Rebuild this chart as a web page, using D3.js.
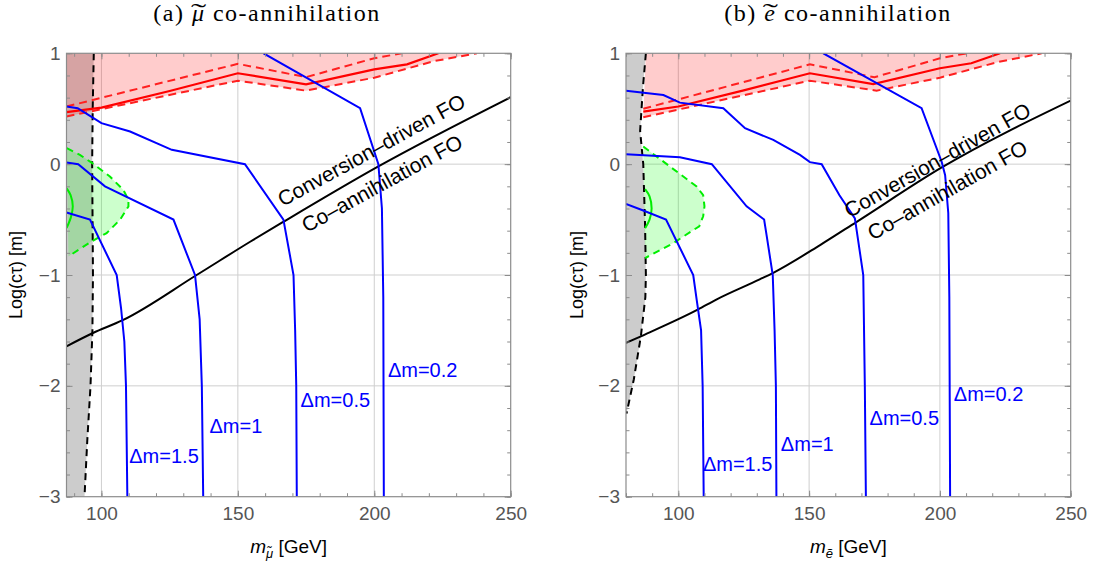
<!DOCTYPE html>
<html>
<head>
<meta charset="utf-8">
<script src="https://cdn.jsdelivr.net/npm/d3@7"></script>
<style>
  body { margin: 0; background: #fff; }
  svg text { font-family: "Liberation Sans", Arial, sans-serif; }
</style>
</head>
<body>
<div id="chart"></div>
<script>
const W = 1096;
const H = 569;

// shared axes
const yTicks = [-3, -2, -1, 0, 1];
const yGrid = [-2, -1, 0];
const xTicks = [100, 150, 200, 250];
const xGrid = [100, 150, 200];
const dmLabels = ["Δm=0.2", "Δm=0.5", "Δm=1", "Δm=1.5"];

// (a) smuon co-annihilation
const muDomain = [87.2, 250];
const muBound = [[97.2, 1], [96.8, 0.5], [96.6, 0], [96.9, -1], [96.7, -1.5], [96.0, -2], [94.8, -2.5], [93.8, -3]];
const muRed = [[87.2, 0.47], [100, 0.51], [125, 0.66], [150, 0.82], [175, 0.72], [200, 0.855], [212, 0.9], [223.5, 1.0]];
const muRedUp = [[87.2, 0.52], [150, 0.905], [175, 0.785], [200, 0.955], [210, 1.0]];
const muRedLow = [[87.2, 0.43], [150, 0.753], [175, 0.663], [200, 0.78], [222, 0.93], [237.6, 1.0]];
const muGreen = [[87.3, 0.144], [92.1, 0.084], [96.4, 0.014], [103.1, -0.111], [108.0, -0.232], [109.9, -0.322],
  [109.9, -0.382], [106.8, -0.502], [101.9, -0.622], [96.4, -0.697], [87.9, -0.832]];
const muGreenCore = [[87.2, -0.216], [88.7, -0.28], [89.5, -0.38], [88.8, -0.48], [87.2, -0.577]];
const muFO = [[87.2, -1.643], [96.9, -1.523], [107.6, -1.41], [134.9, -1.0], [154.5, -0.70],
  [166.7, -0.52], [201.5, -0.02], [250, 0.604]];
const muDm02 = [[159.4, 1], [194.8, 0.505], [201.5, 0.0], [202.8, -0.4], [203.3, -1.2], [203.5, -3]];
const muDm05 = [[87.2, 0.52], [91.3, 0.505], [95.8, 0.435], [100, 0.37], [110.5, 0.294], [125.8, 0.129],
  [152.6, 0.0], [166.7, -0.5], [170.4, -1.0], [171, -1.5], [171.4, -2], [171.6, -3]];
const muDm1 = [[87.2, 0.014], [91.5, 0.0], [101.3, -0.2], [126.4, -0.5], [134.3, -1.0], [136, -1.4], [136.8, -2], [137.3, -3]];
const muDm15 = [[87.2, -0.436], [95.8, -0.50], [105.6, -1.0], [107.2, -1.3], [108.4, -1.6], [109, -2], [109.5, -3]];
const muDmAt = [[205.0, -1.853], [173.0, -2.123], [139.6, -2.364], [110.2, -2.628]];
const muFOAt = [[198.9, 0.129], [202.8, -0.171]];

// (b) selectron co-annihilation
const eDomain = [80, 250];
const eBound = [[87.6, 1.0], [86.5, 0.7], [85.4, 0.3], [86.6, 0.0], [87.3, -0.56], [87.6, -1.0], [87.4, -1.2],
  [85.7, -1.55], [83, -1.94], [80.2, -2.25]];
const eRed = [[86.6, 0.474], [100, 0.52], [125, 0.665], [150.3, 0.82], [174.5, 0.723], [200, 0.865], [212, 0.91], [223, 1.0]];
const eRedUp = [[86.6, 0.50], [150.3, 0.90], [175, 0.784], [200, 0.955], [210.2, 1.0]];
const eRedLow = [[86.6, 0.423], [150.3, 0.753], [175.8, 0.663], [200, 0.78], [222, 0.92], [238.9, 1.0]];
const eGreen = [[86.6, 0.159], [107, -0.202], [109.5, -0.28], [110, -0.38], [109.5, -0.47], [108, -0.56],
  [98.1, -0.712], [87.3, -0.847]];
const eGreenCore = [[87.3, -0.225], [89, -0.29], [89.8, -0.4], [89, -0.5], [87.3, -0.577]];
const eFO = [[80, -1.613], [85.7, -1.553], [107.4, -1.313], [114.7, -1.22], [131.1, -1.04], [136.3, -0.98],
  [154.2, -0.73], [168.2, -0.52], [200.7, -0.03], [250, 0.573]];
const eDm02 = [[155.4, 1], [193, 0.505], [200.7, 0.02], [202, -0.1], [203.2, -0.44], [203.6, -1.2], [203.9, -3]];
const eDm05 = [[80, 0.663], [94.3, 0.624], [100.6, 0.555], [117.2, 0.505], [125.5, 0.324], [136.3, 0.219],
  [146.5, 0.084], [150.3, 0.018], [154.8, 0.0], [161.6, -0.28], [167.5, -0.49], [170.7, -1.0], [171.3, -2], [171.7, -3]];
const eDm1 = [[80, 0.09], [100.6, 0.063], [112.8, 0.0], [126.1, -0.38], [132.8, -0.50], [133.8, -0.65],
  [136.1, -1.0], [136.8, -1.5], [137.3, -2], [137.5, -3]];
const eDm15 = [[80, -0.36], [86.6, -0.418], [95.3, -0.50], [105.7, -1.0], [107, -1.22], [108.7, -1.5], [109.3, -2], [109.7, -3]];
const eDmAt = [[205.3, -2.07], [173.1, -2.29], [139.2, -2.52], [109.4, -2.70]];
const eFOAt = [[199.0, 0.039], [202.8, -0.232]];

const panels = [
  {
    id: "a", left: 66.5, right: 510.7, domain: muDomain, tag: "(a) ", sym: "μ", subSym: "μ̃", titleX: 267, ylabX: 22,
    bound: muBound, grayBottom: -3, redLeft: 87.2, red: muRed, redUp: muRedUp, redLow: muRedLow,
    green: muGreen, greenCore: muGreenCore, fo: muFO, dm: [muDm02, muDm05, muDm1, muDm15],
    dmAt: muDmAt, foAt: muFOAt
  },
  {
    id: "b", left: 626, right: 1070.7, domain: eDomain, tag: "(b) ", sym: "e", subSym: "ẽ", titleX: 838, ylabX: 582.5,
    bound: eBound, grayBottom: null, redLeft: 87.6, red: eRed, redUp: eRedUp, redLow: eRedLow,
    green: eGreen, greenCore: eGreenCore, fo: eFO, dm: [eDm02, eDm05, eDm1, eDm15],
    dmAt: eDmAt, foAt: eFOAt
  }
];

const plotTop = 53.3;
const plotBottom = 496.7;
const frameColor = "#8c8c8c";
const labelColor = "#555";

const svg = d3.select("#chart").append("svg")
  .attr("width", W)
  .attr("height", H)
  .attr("viewBox", `0 0 ${W} ${H}`);

const drawPanel = (p) => {
  const x = d3.scaleLinear().domain(p.domain).range([p.left, p.right]);
  const y = d3.scaleLinear().domain([-3, 1]).range([plotBottom, plotTop]);
  const line = d3.line().x((d) => x(d[0])).y((d) => y(d[1]));
  const smooth = d3.line().x((d) => x(d[0])).y((d) => y(d[1])).curve(d3.curveCatmullRom);
  const mono = d3.line().x((d) => x(d[0])).y((d) => y(d[1])).curve(d3.curveMonotoneX);
  const xMin = p.domain[0];
  const xMax = p.domain[1];

  const g = svg.append("g");

  g.append("clipPath").attr("id", "clip" + p.id)
    .append("rect")
    .attr("x", p.left).attr("y", plotTop)
    .attr("width", p.right - p.left).attr("height", plotBottom - plotTop);

  const plot = g.append("g").attr("clip-path", `url(#clip${p.id})`);

  // grid
  plot.selectAll(".gx").data(xGrid).enter().append("line")
    .attr("x1", (d) => x(d)).attr("x2", (d) => x(d))
    .attr("y1", plotTop).attr("y2", plotBottom)
    .attr("stroke", "#cfcfcf").attr("stroke-width", 1);
  plot.selectAll(".gy").data(yGrid).enter().append("line")
    .attr("x1", p.left).attr("x2", p.right)
    .attr("y1", (d) => y(d)).attr("y2", (d) => y(d))
    .attr("stroke", "#cfcfcf").attr("stroke-width", 1);

  // excluded (grey) region left of the dashed boundary
  const lastB = p.bound[p.bound.length - 1];
  const grayPoly = [[xMin, 1]].concat(p.bound)
    .concat(p.grayBottom === null ? [[xMin, lastB[1]]] : [[xMin, p.grayBottom]]);
  plot.append("path").attr("d", line(grayPoly) + "Z").attr("fill", "#cccccc");

  // green region
  plot.append("path").attr("d", line(p.green) + "Z").attr("fill", "rgba(0,255,0,0.2)");

  // red region above lower dashed curve
  const redPoly = p.redLow.concat([[p.redLow[p.redLow.length - 1][0], 1], [p.redLeft, 1]]);
  plot.append("path").attr("d", line(redPoly) + "Z").attr("fill", "rgba(255,0,0,0.2)");

  // dashed boundary
  plot.append("path").attr("d", line(p.bound))
    .attr("fill", "none").attr("stroke", "#000").attr("stroke-width", 2)
    .attr("stroke-dasharray", "7,5");

  // green lines
  plot.append("path").attr("d", line(p.green))
    .attr("fill", "none").attr("stroke", "#00ee00").attr("stroke-width", 2)
    .attr("stroke-dasharray", "7,5");
  plot.append("path").attr("d", smooth(p.greenCore))
    .attr("fill", "none").attr("stroke", "#00ee00").attr("stroke-width", 2);

  // red lines
  [p.redUp, p.redLow].forEach((d) => {
    plot.append("path").attr("d", line(d))
      .attr("fill", "none").attr("stroke", "#ff2020").attr("stroke-width", 2)
      .attr("stroke-dasharray", "8,5");
  });
  plot.append("path").attr("d", line(p.red))
    .attr("fill", "none").attr("stroke", "#ff0000").attr("stroke-width", 2.2);

  // freeze-out boundary
  plot.append("path").attr("d", mono(p.fo))
    .attr("fill", "none").attr("stroke", "#000").attr("stroke-width", 2);

  // relic density contours
  plot.selectAll(".dm").data(p.dm).enter().append("path")
    .attr("d", (d) => line(d))
    .attr("fill", "none").attr("stroke", "#0000ff").attr("stroke-width", 2);

  // frame
  g.append("rect")
    .attr("x", p.left).attr("y", plotTop)
    .attr("width", p.right - p.left).attr("height", plotBottom - plotTop)
    .attr("fill", "none").attr("stroke", frameColor).attr("stroke-width", 1.2);

  const styleAxis = (sel) => {
    sel.select(".domain").remove();
    sel.selectAll("line").attr("stroke", frameColor);
    sel.selectAll("text").attr("fill", labelColor).style("font-size", "19px");
  };
  const xMinor = d3.range(Math.ceil(xMin / 10) * 10, xMax + 1, 10);
  const yMinor = d3.range(-3, 1.001, 0.2);

  g.append("g").attr("transform", `translate(0,${plotBottom})`)
    .call(d3.axisBottom(x).tickValues(xTicks).tickFormat(d3.format("d")).tickSizeInner(-6).tickSizeOuter(0).tickPadding(10))
    .call(styleAxis);
  g.append("g").attr("transform", `translate(0,${plotBottom})`)
    .call(d3.axisBottom(x).tickValues(xMinor).tickFormat("").tickSizeInner(-3.5).tickSizeOuter(0))
    .call(styleAxis);
  g.append("g").attr("transform", `translate(0,${plotTop})`)
    .call(d3.axisTop(x).tickValues(xTicks).tickFormat("").tickSizeInner(-6).tickSizeOuter(0))
    .call(styleAxis);
  g.append("g").attr("transform", `translate(0,${plotTop})`)
    .call(d3.axisTop(x).tickValues(xMinor).tickFormat("").tickSizeInner(-3.5).tickSizeOuter(0))
    .call(styleAxis);
  g.append("g").attr("transform", `translate(${p.left},0)`)
    .call(d3.axisLeft(y).tickValues(yTicks).tickFormat(d3.format("d")).tickSizeInner(-6).tickSizeOuter(0).tickPadding(6))
    .call(styleAxis);
  g.append("g").attr("transform", `translate(${p.left},0)`)
    .call(d3.axisLeft(y).tickValues(yMinor).tickFormat("").tickSizeInner(-3.5).tickSizeOuter(0))
    .call(styleAxis);
  g.append("g").attr("transform", `translate(${p.right},0)`)
    .call(d3.axisRight(y).tickValues(yTicks).tickFormat("").tickSizeInner(-6).tickSizeOuter(0))
    .call(styleAxis);
  g.append("g").attr("transform", `translate(${p.right},0)`)
    .call(d3.axisRight(y).tickValues(yMinor).tickFormat("").tickSizeInner(-3.5).tickSizeOuter(0))
    .call(styleAxis);

  // delta m labels
  g.selectAll(".dmlab").data(p.dmAt).enter().append("text")
    .attr("x", (d) => x(d[0]))
    .attr("y", (d) => y(d[1]))
    .attr("dy", "0.36em")
    .attr("fill", "#0000ff")
    .style("font-size", "20px")
    .text((d, i) => dmLabels[i]);

  // FO labels along the black line
  const a = p.fo.find((d) => d[0] > 160);
  const b = p.fo[p.fo.length - 1];
  const angle = Math.atan2(y(b[1]) - y(a[1]), x(b[0]) - x(a[0])) * 180 / Math.PI;
  ["Conversion–driven FO", "Co–annihilation FO"].forEach((t, i) => {
    g.append("text")
      .attr("transform", `translate(${x(p.foAt[i][0])},${y(p.foAt[i][1])}) rotate(${angle})`)
      .attr("text-anchor", "middle")
      .attr("dy", "0.36em")
      .attr("fill", "#000")
      .style("font-size", "21px")
      .text(t);
  });

  // axis titles
  g.append("text")
    .attr("transform", `translate(${p.ylabX},${(plotTop + plotBottom) / 2}) rotate(-90)`)
    .attr("text-anchor", "middle")
    .attr("fill", "#000")
    .style("font-size", "18px")
    .text("Log(cτ) [m]");

  const xl = g.append("text")
    .attr("x", (p.left + p.right) / 2)
    .attr("y", 553)
    .attr("text-anchor", "middle")
    .attr("fill", "#000")
    .style("font-size", "19px");
  xl.append("tspan").style("font-style", "italic").text("m");
  xl.append("tspan").attr("dy", 5).style("font-style", "italic").style("font-size", "13px").text(p.subSym);
  xl.append("tspan").attr("dy", -5).text(" [GeV]");

  // panel title, with a wide tilde over the particle symbol
  const serif = "'Liberation Serif', 'Times New Roman', serif";
  const tt = g.append("text")
    .attr("x", p.titleX)
    .attr("y", 21)
    .attr("text-anchor", "middle")
    .attr("fill", "#000")
    .style("font-family", serif)
    .style("font-size", "24px")
    .style("letter-spacing", "1.5px");
  tt.append("tspan").text(p.tag);
  tt.append("tspan").style("font-style", "italic").text(p.sym);
  tt.append("tspan").text(" co-annihilation");
  const ext = tt.node().getExtentOfChar(p.tag.length);
  g.append("text")
    .attr("transform", `translate(${ext.x + ext.width / 2},20) scale(1.9,1)`)
    .attr("text-anchor", "middle")
    .attr("fill", "#000")
    .style("font-family", serif)
    .style("font-size", "24px")
    .text("˜");
};

panels.forEach(drawPanel);
</script>
</body>
</html>
